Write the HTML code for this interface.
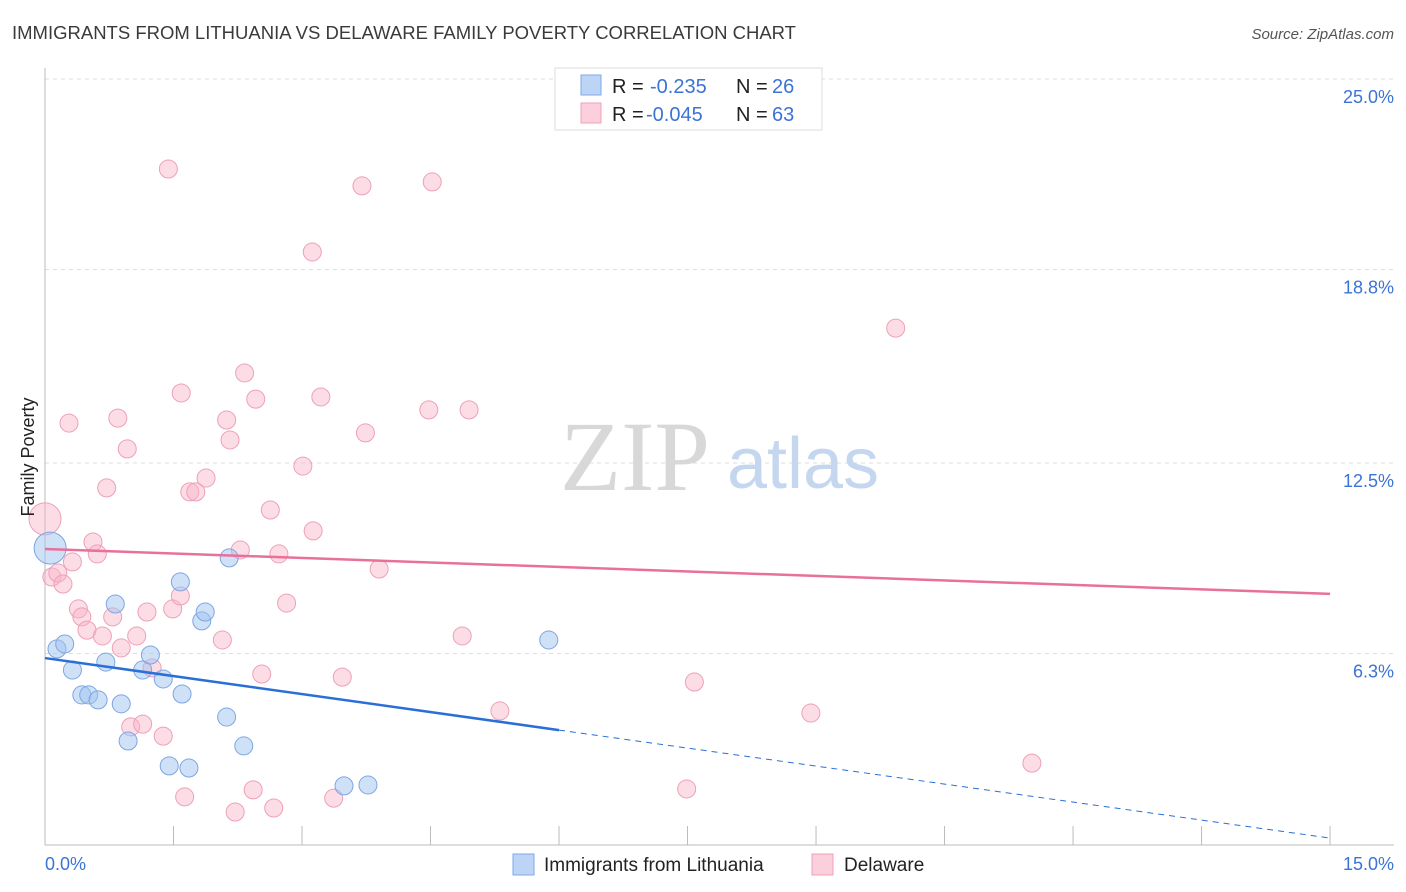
<!DOCTYPE html>
<html><head><meta charset="utf-8"><style>
body{margin:0;background:#fff;font-family:"Liberation Sans",sans-serif;}
svg{display:block}
</style></head><body>
<svg width="1406" height="892">
<text x="12" y="39" font-size="18.5" fill="#3a3a3a">IMMIGRANTS FROM LITHUANIA VS DELAWARE FAMILY POVERTY CORRELATION CHART</text>
<text x="1394" y="39" font-size="15" font-style="italic" fill="#555" text-anchor="end">Source: ZipAtlas.com</text>
<g id="grid"></g>
<text x="635" y="490" font-size="100" font-family="Liberation Serif,serif" fill="#d8d8d8" text-anchor="middle">ZIP</text>
<text x="803" y="488" font-size="72" fill="#c5d7ef" text-anchor="middle">atlas</text>
<g id="marks"></g>
<text transform="translate(34,457) rotate(-90)" font-size="18" fill="#222" text-anchor="middle">Family Poverty</text>
<text x="45" y="870" font-size="18" fill="#3b73d6">0.0%</text>
<text x="1394" y="870" font-size="18" fill="#3b73d6" text-anchor="end">15.0%</text>
<g>
<rect x="555" y="68" width="267" height="62" fill="#fff" stroke="#ddd"/>
<rect x="581" y="75" width="20" height="20" fill="#bcd4f5" stroke="#7fa8e6"/>
<rect x="581" y="103" width="20" height="20" fill="#fbd0dc" stroke="#eca0b8"/>
<text x="612" y="93" font-size="20" fill="#222">R =</text>
<text x="650" y="93" font-size="20" fill="#3b73d6">-0.235</text>
<text x="736" y="93" font-size="20" fill="#222">N =</text>
<text x="772" y="93" font-size="20" fill="#3b73d6">26</text>
<text x="612" y="121" font-size="20" fill="#222">R =</text>
<text x="646" y="121" font-size="20" fill="#3b73d6">-0.045</text>
<text x="736" y="121" font-size="20" fill="#222">N =</text>
<text x="772" y="121" font-size="20" fill="#3b73d6">63</text>
</g>
<g>
<rect x="513" y="854" width="21" height="21" fill="#bcd4f5" stroke="#7fa8e6"/>
<text x="544" y="871" font-size="19" fill="#222">Immigrants from Lithuania</text>
<rect x="812" y="854" width="21" height="21" fill="#fbd0dc" stroke="#eca0b8"/>
<text x="844" y="871" font-size="19" fill="#222">Delaware</text>
</g>
</svg>
<script>
const yTicks=[6.3,12.5,18.8,25.0];
const xTickCount=10;
const blueX=[0.06,0.14,0.23,0.32,0.43,0.51,0.62,0.71,0.82,0.89,0.97,1.14,1.23,1.38,1.45,1.58,1.60,1.68,1.83,1.87,2.12,2.15,2.32,3.49,3.77,5.88];
const blueY=[9.73,6.45,6.61,5.76,4.95,4.95,4.79,6.02,7.91,4.66,3.45,5.76,6.25,5.47,2.64,8.63,4.98,2.57,7.36,7.65,4.23,9.41,3.29,1.99,2.02,6.74];
const pinkX=[0,0.08,0.15,0.21,0.28,0.32,0.39,0.43,0.49,0.56,0.61,0.67,0.72,0.79,0.85,0.89,0.96,1.0,1.07,1.14,1.19,1.25,1.38,1.44,1.49,1.58,1.59,1.63,1.69,1.76,1.88,2.07,2.12,2.16,2.22,2.28,2.33,2.43,2.46,2.53,2.63,2.67,2.73,2.82,3.01,3.12,3.13,3.22,3.37,3.47,3.70,3.74,3.90,4.48,4.52,4.87,4.95,5.31,7.49,7.58,8.94,9.93,11.52];
const pinkY=[10.68,8.79,8.92,8.56,13.80,9.28,7.75,7.49,7.06,9.93,9.54,6.87,11.69,7.49,13.96,6.48,12.96,3.91,6.87,4.00,7.65,5.83,3.61,22.07,7.75,8.17,14.78,1.63,11.56,11.56,12.01,6.74,13.90,13.25,1.14,9.67,15.43,1.86,14.58,5.63,10.97,1.27,9.54,7.94,12.40,19.37,10.29,14.65,1.59,5.53,21.52,13.48,9.05,14.23,21.65,6.87,14.23,4.43,1.89,5.37,4.36,16.89,2.73];
const blueTrend=[6.15,0.29];
const pinkTrend=[9.70,8.24];
const X=v=>45+v*85.67, Y=v=>79+(25-v)*30.72;
const NS="http://www.w3.org/2000/svg";
const g=document.getElementById('grid'), m=document.getElementById('marks');
function mk(tag,attrs,parent){const e=document.createElementNS(NS,tag);for(const k in attrs)e.setAttribute(k,attrs[k]);parent.appendChild(e);return e;}
yTicks.forEach(t=>{
 const l=mk('line',{x1:45,x2:1394,y1:Y(t),y2:Y(t),stroke:'#ddd','stroke-dasharray':'4,4'},g);
 
 
 const tx=mk('text',{x:1394,y:Y(t)+24,'font-size':18,fill:'#3b73d6','text-anchor':'end'},g);
 tx.textContent=t.toFixed(1)+'%';
 
 
});
const ax=mk('line',{x1:45,x2:45,y1:68,y2:845,stroke:'#bbb'},g);


const bx=mk('line',{x1:45,x2:1394,y1:845,y2:845,stroke:'#bbb'},g);


for(let i=1;i<=xTickCount;i++){const v=i*1.5;
 const t=mk('line',{x1:X(v),x2:X(v),y1:826,y2:845,stroke:'#bbb'},g);
 
 
}
pinkX.forEach((x,i)=>{
 const c=mk('circle',{cx:X(x),cy:Y(pinkY[i]),r:i==0?16:9,fill:'rgba(248,180,200,0.45)',stroke:'#eea0b8','stroke-width':1},m);
 
 
});
blueX.forEach((x,i)=>{
 const c=mk('circle',{cx:X(x),cy:Y(blueY[i]),r:i==0?16:9,fill:'rgba(160,195,240,0.5)',stroke:'#7ea6e2','stroke-width':1},m);
 
 
});
const bAt=v=>blueTrend[0]+(blueTrend[1]-blueTrend[0])*v/15;
const pl=mk('line',{x1:X(0),y1:Y(pinkTrend[0]),x2:X(15),y2:Y(pinkTrend[1]),stroke:'#e8709a','stroke-width':2.5},m);


const bl=mk('line',{x1:X(0),y1:Y(bAt(0)),x2:X(6),y2:Y(bAt(6)),stroke:'#2a6fd8','stroke-width':2.5},m);


const bd=mk('line',{x1:X(6),y1:Y(bAt(6)),x2:X(15),y2:Y(bAt(15)),stroke:'#2a6fd8','stroke-width':1,'stroke-dasharray':'6,5'},m);


</script>
</body></html>
